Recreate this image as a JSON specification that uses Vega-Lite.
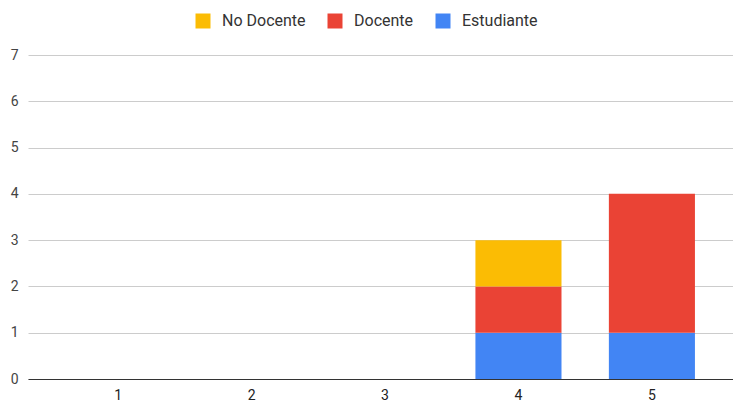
{
  "$schema": "https://vega.github.io/schema/vega-lite/v6.json",
  "width": 733,
  "height": 408,
  "autosize": {"type": "fit", "contains": "padding"},
  "padding": {"left": 10, "top": 48, "right": 0, "bottom": 6},
  "background": "white",
  "config": {
    "view": {"stroke": null},
    "font": "Roboto",
    "axis": {"labelFont": "Roboto", "labelFontSize": 14, "labelColor": "#444444"},
    "legend": {"labelFont": "Roboto", "labelFontSize": 16, "labelColor": "#333333"}
  },
  "data": {
    "values": [
      {"categoria": "1", "tipo": "Estudiante", "rango": 1, "valor": 0},
      {"categoria": "2", "tipo": "Estudiante", "rango": 1, "valor": 0},
      {"categoria": "3", "tipo": "Estudiante", "rango": 1, "valor": 0},
      {"categoria": "4", "tipo": "Estudiante", "rango": 1, "valor": 1},
      {"categoria": "4", "tipo": "Docente", "rango": 2, "valor": 1},
      {"categoria": "4", "tipo": "No Docente", "rango": 3, "valor": 1},
      {"categoria": "5", "tipo": "Estudiante", "rango": 1, "valor": 1},
      {"categoria": "5", "tipo": "Docente", "rango": 2, "valor": 3},
      {"categoria": "5", "tipo": "No Docente", "rango": 3, "valor": 0}
    ]
  },
  "mark": {"type": "bar"},
  "encoding": {
    "x": {
      "field": "categoria",
      "type": "nominal",
      "scale": {"paddingInner": 0.355, "paddingOuter": 0.319, "align": 0.553},
      "axis": {"title": null, "labelAngle": 0, "ticks": false, "domain": true, "domainColor": "#333333", "labelPadding": 9, "labelColor": "#222222"}
    },
    "y": {
      "field": "valor",
      "type": "quantitative",
      "aggregate": "sum",
      "stack": "zero",
      "scale": {"domain": [0, 7]},
      "axis": {"title": null, "values": [0, 1, 2, 3, 4, 5, 6, 7], "ticks": false, "domain": false, "gridColor": "#cccccc", "labelPadding": 10}
    },
    "order": {"field": "rango", "type": "quantitative", "aggregate": "min", "sort": "ascending"},
    "color": {
      "field": "tipo",
      "type": "nominal",
      "scale": {"domain": ["Estudiante", "Docente", "No Docente"], "range": ["#4285f4", "#ea4335", "#fbbc04"]},
      "legend": {
        "title": null,
        "orient": "none",
        "direction": "horizontal",
        "legendX": 167,
        "legendY": -42,
        "values": ["No Docente", "Docente", "Estudiante"],
        "symbolType": "square",
        "symbolSize": 225,
        "symbolStrokeWidth": 0,
        "columnPadding": 21,
        "labelOffset": 11
      }
    }
  }
}
